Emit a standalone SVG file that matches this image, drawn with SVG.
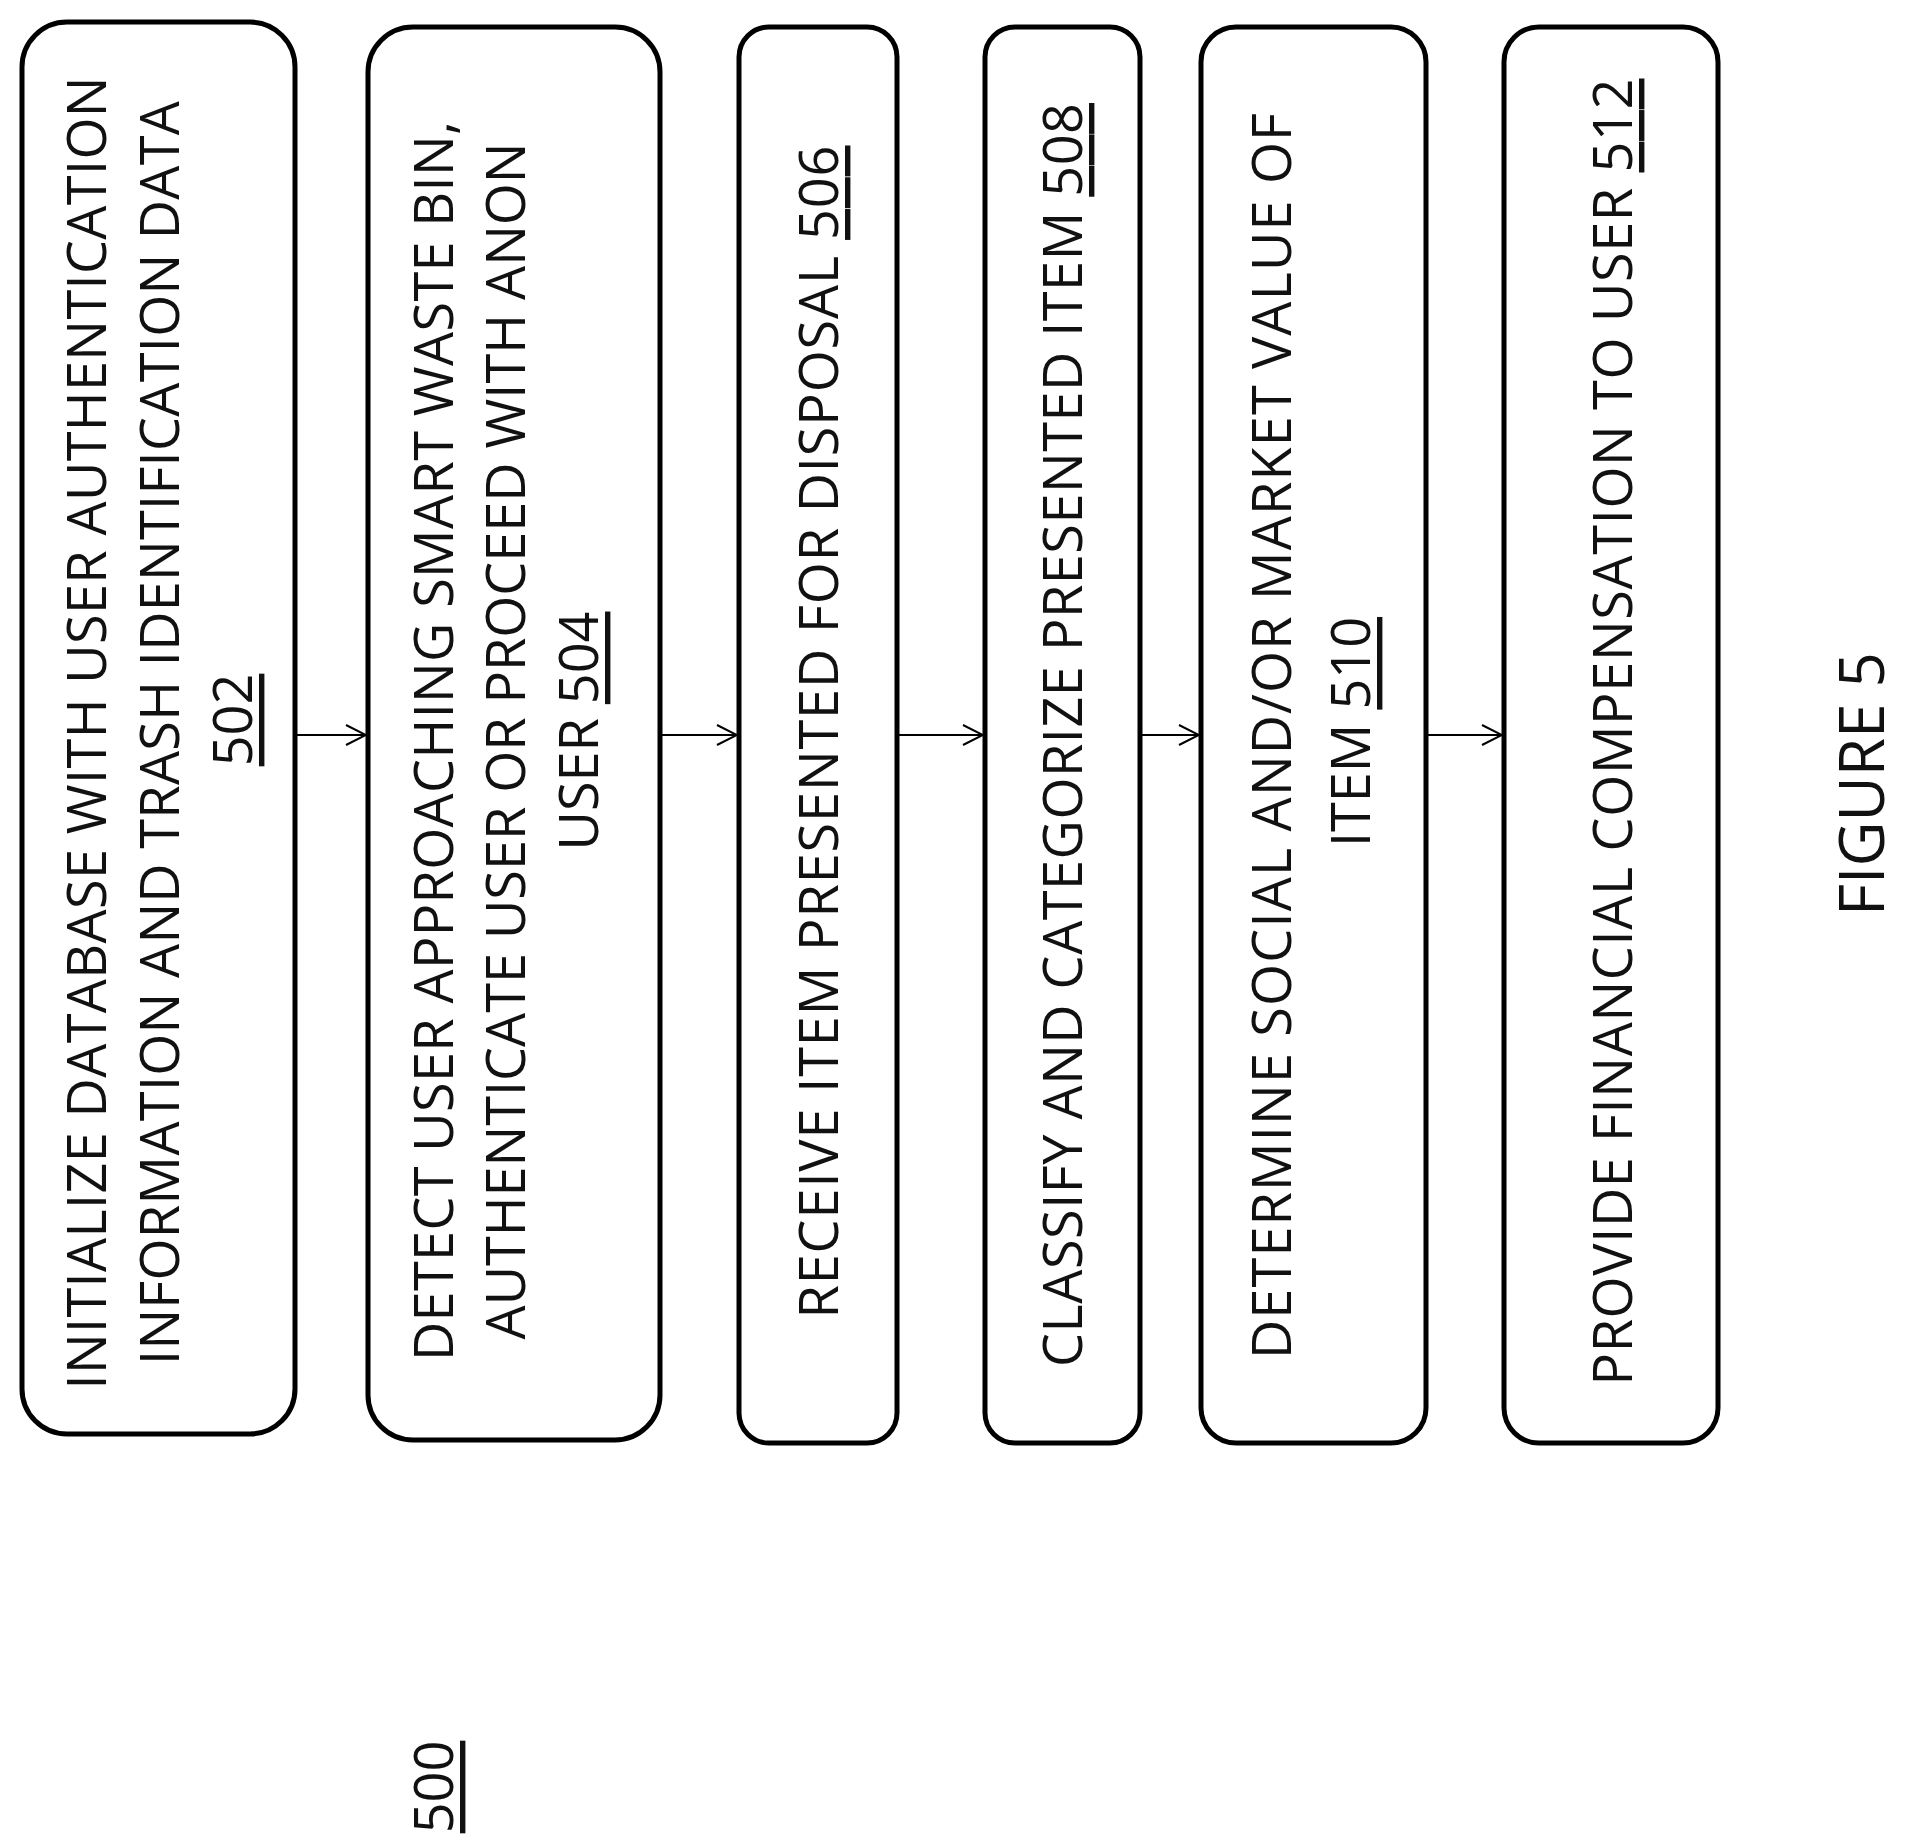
<svg xmlns="http://www.w3.org/2000/svg" width="1906" height="1847" viewBox="0 0 1906 1847">
<style>
.b{fill:#fff;stroke:#000;stroke-width:5}
.t{font-family:"Open Sans","Liberation Sans",sans-serif;font-size:54px;fill:#111;text-anchor:middle;dominant-baseline:central;lengthAdjust:spacingAndGlyphs}
.u{text-decoration:underline}
.c{stroke:#000;stroke-width:2;fill:none}
</style>
<defs><marker id="a" markerWidth="24" markerHeight="24" refX="22" refY="12" orient="auto" markerUnits="userSpaceOnUse"><path d="M2,2 L22,12 L2,22" fill="none" stroke="#000" stroke-width="2"/></marker></defs>
<g id="connectors">
<line class="c" x1="295" y1="735" x2="366" y2="735" marker-end="url(#a)"/>
<line class="c" x1="660" y1="735" x2="737" y2="735" marker-end="url(#a)"/>
<line class="c" x1="897" y1="735" x2="983" y2="735" marker-end="url(#a)"/>
<line class="c" x1="1140" y1="735" x2="1199" y2="735" marker-end="url(#a)"/>
<line class="c" x1="1426" y1="735" x2="1502" y2="735" marker-end="url(#a)"/>
</g>
<g id="n502"><rect class="b" x="22" y="22" width="273" height="1412" rx="45"/>
<text class="t" transform="translate(85,733) rotate(-90)" textLength="1313">INITIALIZE DATABASE WITH USER AUTHENTICATION</text>
<text class="t" transform="translate(158,733) rotate(-90)" textLength="1264">INFORMATION AND TRASH IDENTIFICATION DATA</text>
<text class="t u" transform="translate(231,720) rotate(-90)">502</text></g>
<g id="n504"><rect class="b" x="368" y="27" width="292" height="1413" rx="45"/>
<text class="t" transform="translate(432,741) rotate(-90)" textLength="1240">DETECT USER APPROACHING SMART WASTE BIN,</text>
<text class="t" transform="translate(504,741) rotate(-90)" textLength="1197">AUTHENTICATE USER OR PROCEED WITH ANON</text>
<text class="t" transform="translate(577,731) rotate(-90)">USER <tspan class="u">504</tspan></text></g>
<g id="n506"><rect class="b" x="739" y="27" width="158" height="1416" rx="30"/>
<text class="t" transform="translate(817,732) rotate(-90)" textLength="1173">RECEIVE ITEM PRESENTED FOR DISPOSAL <tspan class="u">506</tspan></text></g>
<g id="n508"><rect class="b" x="985" y="27" width="155" height="1416" rx="30"/>
<text class="t" transform="translate(1061,735) rotate(-90)" textLength="1264">CLASSIFY AND CATEGORIZE PRESENTED ITEM <tspan class="u">508</tspan></text></g>
<g id="n510"><rect class="b" x="1201" y="27" width="225" height="1416" rx="35"/>
<text class="t" transform="translate(1270,736) rotate(-90)" textLength="1246">DETERMINE SOCIAL AND/OR MARKET VALUE OF</text>
<text class="t" transform="translate(1349,732) rotate(-90)">ITEM <tspan class="u">510</tspan></text></g>
<g id="n512"><rect class="b" x="1504" y="27" width="214" height="1416" rx="35"/>
<text class="t" transform="translate(1611,732) rotate(-90)" textLength="1307">PROVIDE FINANCIAL COMPENSATION TO USER <tspan class="u">512</tspan></text></g>
<text class="t u" transform="translate(432,1787) rotate(-90)">500</text>
<text class="t" style="font-size:62px" transform="translate(1860,784) rotate(-90)">FIGURE 5</text>
</svg>
